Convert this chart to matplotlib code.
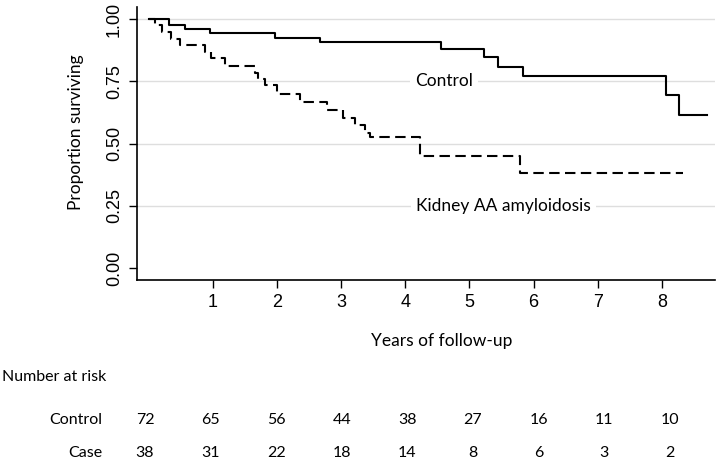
import matplotlib
matplotlib.use("Agg")
import matplotlib.pyplot as plt
import numpy as np

# ---- data ----
control_t = [0.0, 0.32, 0.56, 0.95, 1.97, 2.67, 4.55, 5.22, 5.44, 5.83, 8.07, 8.27, 8.70]
control_s = [1.000, 0.976, 0.958, 0.942, 0.925, 0.906, 0.879, 0.846, 0.808, 0.770, 0.695, 0.614, 0.614]

case_t = [0.0, 0.09, 0.20, 0.35, 0.49, 0.88, 0.97, 1.18, 1.66, 1.70, 1.81, 1.99,
          2.36, 2.77, 3.03, 3.21, 3.37, 3.45, 4.23, 5.79, 8.33]
case_s = [1.000, 0.974, 0.947, 0.921, 0.895, 0.868, 0.842, 0.813, 0.784, 0.758, 0.735, 0.700,
          0.668, 0.635, 0.602, 0.575, 0.541, 0.525, 0.450, 0.383, 0.383]

x_ticks = [1, 2, 3, 4, 5, 6, 7, 8]
y_ticks = [0.00, 0.25, 0.50, 0.75, 1.00]
y_ticklabels = ["0.00", "0.25", "0.50", "0.75", "1.00"]

risk_times = [0, 1, 2, 3, 4, 5, 6, 7, 8]
risk_control = [72, 65, 56, 44, 38, 27, 16, 11, 10]
risk_case = [38, 31, 22, 18, 14, 8, 6, 3, 2]

TXT = "Lato"
NUM = "Liberation Sans"

W, H = 717, 462
fig = plt.figure(figsize=(W / 100, H / 100), dpi=100)
ax = fig.add_axes([137 / W, 1 - 280 / H, (715 - 137) / W, (280 - 7) / H])

ax.set_xlim(-0.187, 8.83)
ax.set_ylim(-0.048, 1.048)

for yv in [0.25, 0.5, 0.75, 1.0]:
    ax.axhline(yv, color="#dedede", lw=1.0, zorder=0)

ax.step(control_t, control_s, where="post", color="black", lw=1.5, zorder=3)
ln, = ax.step(case_t, case_s, where="post", color="black", lw=1.5, zorder=3)
ln.set_dashes((5.0, 2.6))

ax.text(4.6, 0.75, "Control", fontsize=12.5, family=TXT, ha="center", va="center",
        bbox=dict(facecolor="white", edgecolor="none", pad=3.5), zorder=2)
ax.text(5.53, 0.25, "Kidney AA amyloidosis", fontsize=12.5, family=TXT, ha="center", va="center",
        bbox=dict(facecolor="white", edgecolor="none", pad=3.5), zorder=2)

for s in ["top", "right"]:
    ax.spines[s].set_visible(False)
for s in ["left", "bottom"]:
    ax.spines[s].set_linewidth(1.2)

ax.set_xticks(x_ticks)
ax.set_xticklabels([str(v) for v in x_ticks], fontsize=13, family=NUM)
ax.set_yticks(y_ticks)
ax.set_yticklabels(y_ticklabels, fontsize=13, family=NUM, rotation=90, va="center")
ax.tick_params(axis="both", direction="out", length=6, width=1.0, pad=4)

fig.text(76 / W, 1 - 132 / H, "Proportion surviving", fontsize=12.5, family=TXT,
         rotation=90, ha="center", va="center")

fig.text(442 / W, 1 - 341 / H, "Years of follow-up", fontsize=12.5, family=TXT,
         ha="center", va="center")

# number at risk table
fig.text(2 / W, 1 - 377 / H, "Number at risk", fontsize=11.5, family=TXT, ha="left", va="center")
fig.text(102 / W, 1 - 420 / H, "Control", fontsize=11.5, family=TXT, ha="right", va="center")
fig.text(102 / W, 1 - 453 / H, "Case", fontsize=11.5, family=TXT, ha="right", va="center")
for i, (a, b) in enumerate(zip(risk_control, risk_case)):
    xp = (145 + 65.6 * risk_times[i]) / W
    fig.text(xp, 1 - 420 / H, str(a), fontsize=11.5, family=TXT, ha="center", va="center")
    fig.text(xp, 1 - 453 / H, str(b), fontsize=11.5, family=TXT, ha="center", va="center")

fig.savefig("out.png", dpi=100)
